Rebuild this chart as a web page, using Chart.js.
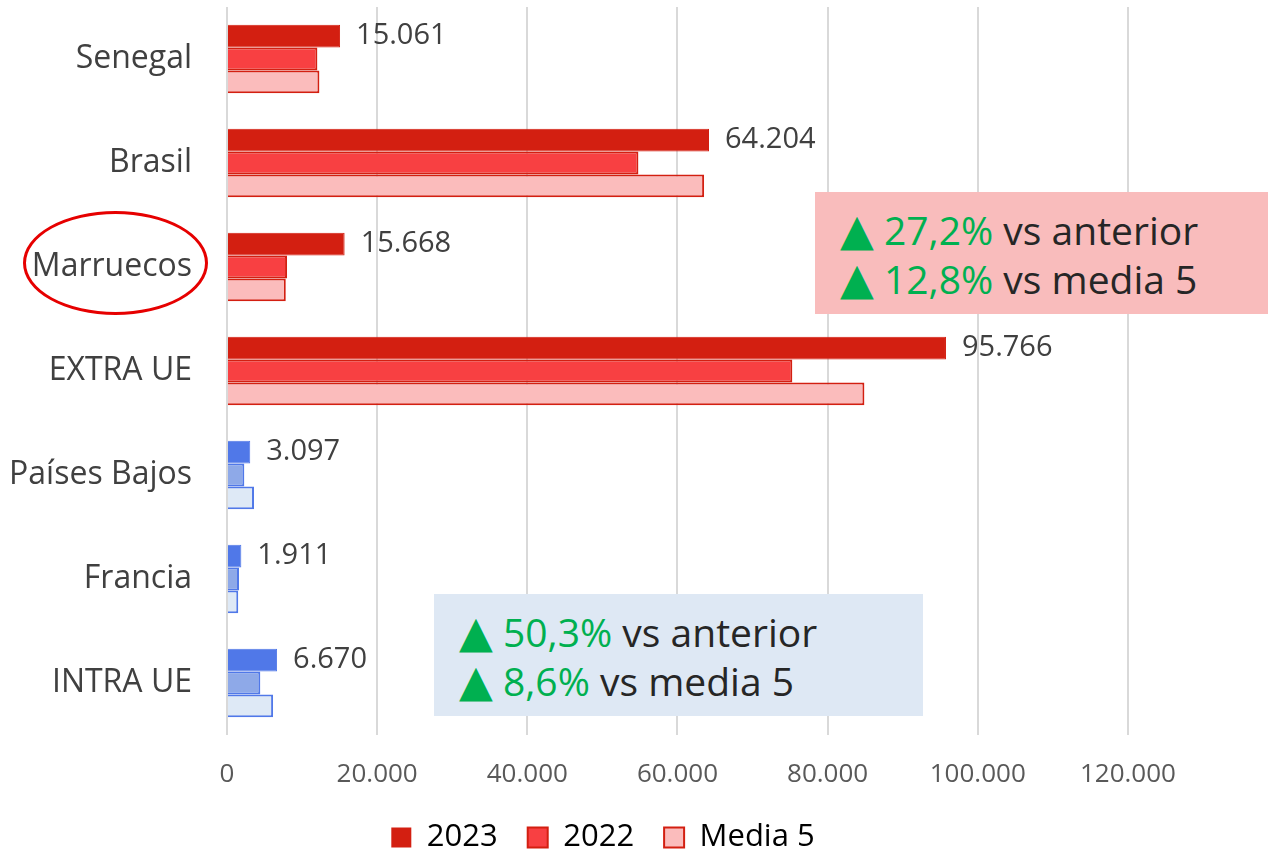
<!DOCTYPE html>
<html>
<head>
<meta charset="utf-8">
<script src="https://cdn.jsdelivr.net/npm/chart.js@4"></script>
<style>
    body { margin: 0; background: #fff; }
    #wrap { position: relative; width: 1268px; height: 851px; }
    .box { position: absolute; font-family: "Open Sans", sans-serif; font-size: 39px; color: #262626; line-height: 49px; white-space: nowrap; }
    .box .up { color: #00B050; }
    .box .tri { font-family: "DejaVu Sans", sans-serif; font-size: 44px; line-height: 0; }
    #box_red { left: 815px; top: 192px; width: 453px; height: 122px; background: #F9BCBC; }
    #box_blue { left: 434px; top: 594px; width: 489px; height: 122px; background: #DEE8F4; }
    .box div { padding-left: 25px; }
    #circle { position: absolute; left: 23px; top: 211px; width: 179px; height: 98px; border: 3px solid #E60000; border-radius: 50%; }
</style>
</head>
<body>
<div id="wrap">
    <canvas id="chart_pais" width="1268" height="851"></canvas>
    <div id="circle"></div>
    <div class="box" id="box_red">
        <div style="padding-top:13px"><span class="up"><span class="tri">▲</span> 27,2%</span> vs anterior</div>
        <div><span class="up"><span class="tri">▲</span> 12,8%</span> vs media 5</div>
    </div>
    <div class="box" id="box_blue">
        <div style="padding-top:13px"><span class="up"><span class="tri">▲</span> 50,3%</span> vs anterior</div>
        <div><span class="up"><span class="tri">▲</span> 8,6%</span> vs media 5</div>
    </div>
</div>
<script>
const paises = ["Senegal", "Brasil", "Marruecos", "EXTRA UE", "Países Bajos", "Francia", "INTRA UE"];
const valores2023 = [15061, 64204, 15668, 95766, 3097, 1911, 6670];
const valores2022 = [12040, 54800, 8000, 75300, 2310, 1600, 4440];
const valoresMedia5 = [12310, 63550, 7830, 84900, 3600, 1500, 6140];
const ticksX = [0, 20000, 40000, 60000, 80000, 100000, 120000];
const maxX = 130400; // el eje sigue un poco mas alla de la ultima linea

// rojo para extra UE, azul para intra UE
const nRojos = 4;
function colores(rojo, azul){
    let c = [];
    for(let i = 0; i < paises.length; i++){
        c.push(i < nRojos ? rojo : azul);
    }
    return c;
}

function formatNum(v){
    return String(v).replace(/\B(?=(\d{3})+(?!\d))/g, ".");
}

const etiquetas = {
    id: 'etiquetas',
    afterDatasetsDraw(chart){
        const ctx = chart.ctx;
        const meta = chart.getDatasetMeta(0);
        ctx.save();
        ctx.font = '29px "Open Sans"';
        ctx.fillStyle = '#404040';
        ctx.textBaseline = 'middle';
        meta.data.forEach((bar, i) => {
            ctx.fillText(formatNum(valores2023[i]), bar.x + 16, bar.y);
        });
        ctx.restore();
    }
};

const ctx = document.getElementById('chart_pais');
new Chart(ctx, {
    type: 'bar',
    data: {
        labels: paises,
        datasets: [{
            label: '2023',
            data: valores2023,
            backgroundColor: colores('#D31F11', '#5078E8'),
            borderColor: colores('#D31F11', '#5078E8'),
            borderWidth: 1
        }, {
            label: '2022',
            data: valores2022,
            backgroundColor: colores('#F84042', '#8EA9E8'),
            borderColor: colores('#D31F11', '#5078E8'),
            borderWidth: 2
        }, {
            label: 'Media 5',
            data: valoresMedia5,
            backgroundColor: colores('#FBBCBC', '#DEE9F6'),
            borderColor: colores('#D31F11', '#5078E8'),
            borderWidth: 2
        }]
    },
    options: {
        indexAxis: 'y',
        responsive: false,
        animation: false,
        layout: { padding: { top: 7, right: 62, left: 0, bottom: -12 } },
        datasets: { bar: { categoryPercentage: 0.66, barPercentage: 1 } },
        scales: {
            x: {
                min: 0,
                max: maxX,
                afterBuildTicks: function(scale){
                    scale.ticks = ticksX.map(v => ({ value: v }));
                },
                afterFit: function(scale){ scale.height = 57; },
                grid: { color: '#D9D9D9', lineWidth: 2, drawTicks: false },
                border: { display: false },
                ticks: {
                    padding: 24,
                    color: '#595959',
                    font: { family: 'Open Sans', size: 26 },
                    callback: function(v){ return formatNum(v); }
                }
            },
            y: {
                afterFit: function(scale){
                    scale.width = 227;
                    scale.paddingTop = 0;
                    scale.paddingBottom = 0;
                },
                grid: { display: false, drawTicks: true, tickLength: 35 },
                border: { display: false },
                ticks: {
                    padding: 0,
                    color: '#404040',
                    font: { family: 'Open Sans', size: 32 }
                }
            }
        },
        plugins: {
            legend: {
                position: 'bottom',
                labels: {
                    color: '#404040',
                    font: { family: 'Open Sans', size: 31 },
                    boxWidth: 20,
                    boxHeight: 20,
                    padding: 30,
                    generateLabels: function(chart){
                        return chart.data.datasets.map((ds, i) => ({
                            text: ds.label,
                            fillStyle: ds.backgroundColor[0],
                            strokeStyle: ds.borderColor[0],
                            lineWidth: i == 0 ? 0 : 2,
                            datasetIndex: i
                        }));
                    }
                }
            },
            tooltip: { enabled: false }
        }
    },
    plugins: [etiquetas]
});
</script>
</body>
</html>
